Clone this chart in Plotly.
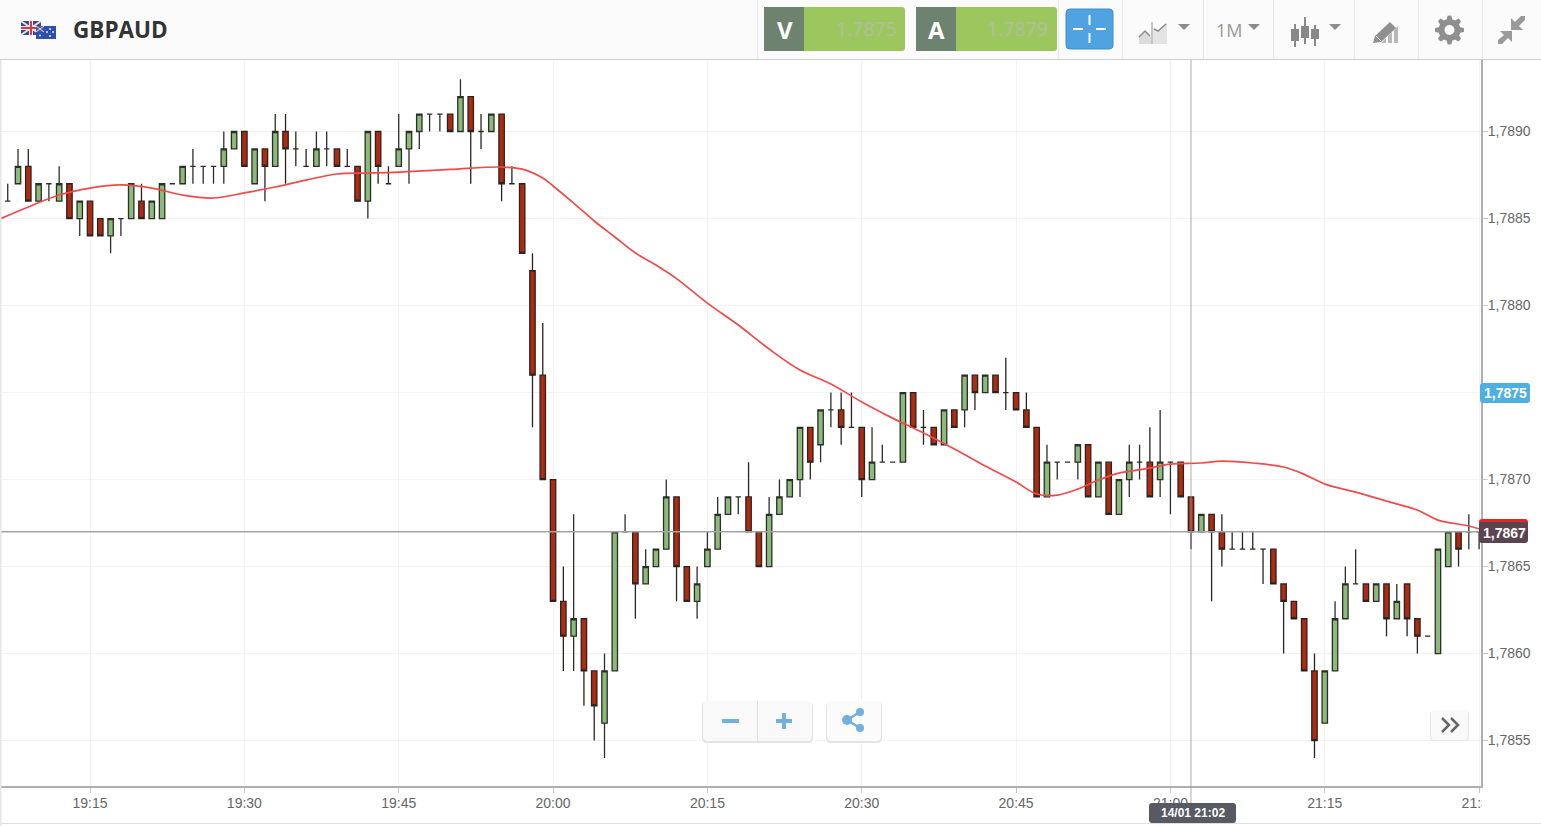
import math
import numpy as np
import pandas as pd
import plotly.graph_objects as go

# prices are written as pips above 1.7800, one candle a minute from 19:07
opens = [86,87,88,86,87,86,87,85,86,85,84,85,85,86,85,85,87,87,88,88,88,88,89,90,87,89,88,90,89,88,88,89,89,88,88,86,90,87,88,89,90,91,91,91,90,92,90,90,91,87,87,
         82,76,70,63,61,62,59,56,59,67,67,64,65,66,69,65,63,65,66,68,69,69,67,65,68,69,70,73,72,74,74,73,73,70,71,71,71,75,73,73,72,74,74,76,75,76,75,75,74,73,69,71,
         71,71,72,69,71,68,70,71,71,70,71,71,69,67,68,67,66,66,66,66,66,64,63,62,59,56,59,62,64,64,63,64,62,64,62,61,60,65,67,67,67]
highs = [87,89,89,87,87,88,87,86,86,85,85,85,87,87,86,87,87,88,89,88,88,90,90,90,89,89,91,91,90,89,90,90,89,89,88,90,90,88,91,90,91,91,91,91,93,92,91,91,91,88,87,
         83,79,70,65,68,62,59,60,67,68,67,66,66,70,69,65,65,67,69,69,69,71,67,69,70,70,73,73,74,75,75,75,73,73,72,71,75,75,74,73,74,74,76,76,76,76,77,75,75,73,72,71,
         71,72,72,71,71,70,72,72,73,74,71,71,69,68,68,68,67,67,67,66,66,64,63,62,60,59,63,65,66,64,64,64,64,64,62,61,66,67,67,68,67]
lows = [86,87,86,86,86,86,85,84,84,84,83,84,85,85,85,85,87,87,87,87,87,87,89,88,87,86,88,87,88,88,88,88,88,88,86,85,87,87,88,87,89,90,90,90,90,87,89,90,86,87,83,
        73,70,63,59,59,57,55,54,59,67,62,64,65,66,63,63,62,65,66,68,68,67,65,65,68,69,69,70,71,73,72,73,69,70,71,71,71,73,72,72,72,73,73,74,75,75,74,74,73,69,69,70,
        71,70,69,69,68,68,69,70,69,69,68,69,66,67,63,65,66,66,66,64,64,60,62,59,54,56,59,62,64,63,63,61,62,61,60,61,60,65,65,66,66]
closes = [86,88,86,87,87,87,85,86,84,84,85,85,87,85,86,87,87,88,88,88,88,89,90,88,89,88,90,89,89,88,89,89,88,88,86,90,88,87,89,90,91,91,91,90,92,90,90,91,87,87,83,
          76,70,63,61,62,59,57,59,67,67,64,65,66,69,65,63,64,66,68,69,69,67,65,68,69,70,73,71,74,74,73,73,70,71,71,71,75,73,73,72,74,73,76,75,76,75,75,74,73,69,71,71,
          71,72,69,71,68,70,71,71,69,71,71,69,67,68,67,66,66,66,66,66,64,63,62,59,55,59,62,64,64,63,64,62,63,62,61,61,66,67,66,67,67]

# moving average read at irregular times
ma_times = ["19:06","19:09","19:12","19:15","19:18","19:21","19:24","19:27","19:30","19:33","19:36","19:39","19:42","19:45","19:50","19:55","19:57","19:59",
            "20:00","20:02","20:04","20:06","20:08","20:10","20:12","20:15","20:18","20:21","20:24","20:27","20:30","20:33","20:36","20:39","20:42","20:45","20:47","20:49",
            "20:51","20:53","20:55","20:58","21:00","21:03","21:05","21:08","21:11","21:13","21:15","21:18","21:21","21:24","21:26","21:29","21:31"]
ma_pips = [84.91,85.66,86.35,86.75,86.93,86.75,86.35,86.18,86.47,86.81,87.21,87.56,87.61,87.67,87.82,87.96,87.84,87.33,
           86.87,85.89,84.86,83.94,83.02,82.33,81.55,80.14,78.88,77.50,76.29,75.49,74.46,73.53,72.67,71.75,70.78,69.86,69.17,69.11,
           69.45,69.97,70.37,70.66,70.89,70.95,71.06,70.95,70.72,70.30,69.74,69.28,68.76,68.25,67.67,67.33,66.98]

y_tick_vals = [1.7855, 1.7860, 1.7865, 1.7870, 1.7875, 1.7880, 1.7885, 1.7890]
y_tick_text = ["1,7855", "1,7860", "1,7865", "1,7870", "", "1,7880", "1,7885", "1,7890"]

W = 1541
H = 826


def to_price(pips):
    return 1.78 + np.array(pips) / 10000


def X(x):
    return x / W


def Y(y):
    return 1 - y / H


shapes = []
notes = []


def rect(x0, y0, x1, y1, fill, line=None, layer="above"):
    shapes.append(dict(type="rect", xref="paper", yref="paper", x0=X(x0), y0=Y(y0), x1=X(x1), y1=Y(y1),
                       fillcolor=fill, line=dict(width=1 if line else 0, color=line or fill), layer=layer))


def poly(points, fill, line=None, width=1):
    path = "M " + " L ".join(f"{X(a):.5f},{Y(b):.5f}" for a, b in points) + " Z"
    shapes.append(dict(type="path", xref="paper", yref="paper", path=path, fillcolor=fill,
                       line=dict(width=width if line else 0, color=line or fill), layer="above"))


def stroke(points, color, width=1):
    path = "M " + " L ".join(f"{X(a):.5f},{Y(b):.5f}" for a, b in points)
    shapes.append(dict(type="path", xref="paper", yref="paper", path=path,
                       line=dict(width=width, color=color), layer="above"))


def rounded(x0, y0, x1, y1, r, fill, line=None):
    path = (f"M {X(x0+r):.5f},{Y(y0):.5f} L {X(x1-r):.5f},{Y(y0):.5f} Q {X(x1):.5f},{Y(y0):.5f} {X(x1):.5f},{Y(y0+r):.5f} "
            f"L {X(x1):.5f},{Y(y1-r):.5f} Q {X(x1):.5f},{Y(y1):.5f} {X(x1-r):.5f},{Y(y1):.5f} "
            f"L {X(x0+r):.5f},{Y(y1):.5f} Q {X(x0):.5f},{Y(y1):.5f} {X(x0):.5f},{Y(y1-r):.5f} "
            f"L {X(x0):.5f},{Y(y0+r):.5f} Q {X(x0):.5f},{Y(y0):.5f} {X(x0+r):.5f},{Y(y0):.5f} Z")
    shapes.append(dict(type="path", xref="paper", yref="paper", path=path, fillcolor=fill,
                       line=dict(width=1 if line else 0, color=line or fill), layer="above"))


def dot(cx, cy, r, fill):
    shapes.append(dict(type="circle", xref="paper", yref="paper", x0=X(cx-r), y0=Y(cy-r), x1=X(cx+r), y1=Y(cy+r),
                       fillcolor=fill, line=dict(width=0), layer="above"))


def label(x, y, text, size, color, family="Liberation Sans", anchor="center"):
    notes.append(dict(xref="paper", yref="paper", x=X(x), y=Y(y), text=text, showarrow=False, xanchor=anchor,
                      yanchor="middle", font=dict(size=size, color=color, family=family)))


times = pd.date_range("2016-01-14 19:07", periods=len(opens), freq="min")

fig = go.Figure()
fig.add_trace(go.Candlestick(
    x=times, open=to_price(opens), high=to_price(highs), low=to_price(lows), close=to_price(closes),
    increasing=dict(fillcolor="#8cba78", line=dict(color="#2b2f2a", width=1.3)),
    decreasing=dict(fillcolor="#ae2a10", line=dict(color="#2b2320", width=1.3)),
    whiskerwidth=0, hoverinfo="skip", showlegend=False,
))
fig.add_trace(go.Scatter(
    x=[f"2016-01-14 {t}" for t in ma_times], y=to_price(ma_pips), mode="lines",
    line=dict(color="#f24a4a", width=1.7, shape="spline"), hoverinfo="skip", showlegend=False,
))

# crosshair
shapes.append(dict(type="line", xref="paper", yref="y", x0=0, x1=X(1481), y0=1.7867, y1=1.7867,
                   line=dict(color="#a3a3a3", width=1.6), layer="above"))
shapes.append(dict(type="line", xref="x", yref="paper", x0="2016-01-14 21:02", x1="2016-01-14 21:02", y0=Y(823), y1=Y(60),
                   line=dict(color="#9a9a9a", width=0.8), layer="above"))

# hides what runs past the right edge of the plot
rect(1482, 788, 1541, 822, "#ffffff")
rect(0, 822, W, 826, "#ffffff")
rect(0, 823, W, 824, "#dedede")
rect(0, 60, 1.5, 826, "#e6e6e6")

# header strip
rect(0, 0, W, 59, "#fbfbfb")
rect(0, 59, W, 60, "#cfcfcf")
for sx in [757, 1058, 1122, 1203, 1273, 1354, 1418, 1482]:
    rect(sx, 0, sx + 1, 59, "#e8e8e8")

# flags
rect(21, 21, 41, 35, "#3b4a86")
stroke([(21, 21), (41, 35)], "#e9dfe0", 2)
stroke([(21, 35), (41, 21)], "#e9dfe0", 2)
rect(29, 21, 33, 35, "#f2ecec")
rect(21, 26, 41, 30, "#f2ecec")
rect(30, 21, 32, 35, "#d0394a")
rect(21, 27, 41, 29, "#d0394a")
rect(36, 26, 56, 39, "#2d4fae")
rect(36, 26, 44, 32, "#4a5a9c")
stroke([(36, 26), (44, 32)], "#e6d8dc", 1)
stroke([(36, 32), (44, 26)], "#e6d8dc", 1)
for sx, sy in [(40, 35.5), (50, 29), (53, 32), (50, 36), (47, 32)]:
    dot(sx, sy, 0.9, "#ffffff")
label(71, 29.5, "<b>GBPAUD</b>", 22.5, "#333333", "Open Sans", "left")

# quote boxes
rounded(764, 7, 905, 51, 3, "#9cc75f")
rect(764, 7, 804, 51, "#6e8270")
label(785, 29.5, "<b>V</b>", 24, "#ffffff", "Open Sans")
label(899, 28.5, "1.7875", 19.5, "#b3bd9f", "Open Sans", "right")
rounded(916, 7, 1057, 51, 3, "#9cc75f")
rect(916, 7, 956, 51, "#6e8270")
label(936, 29.5, "<b>A</b>", 24, "#ffffff", "Open Sans")
label(1050, 28.5, "1.7879", 19.5, "#b3bd9f", "Open Sans", "right")

# crosshair button
rounded(1066, 9, 1113, 49, 4, "#4ea3e0", "#3f8fca")
rect(1088.5, 15, 1090.5, 25, "#ffffff")
rect(1088.5, 33, 1090.5, 43, "#ffffff")
rect(1073, 28, 1083, 30, "#ffffff")
rect(1096, 28, 1106, 30, "#ffffff")

# chart type icon
poly([(1139, 44), (1139, 37), (1145, 31), (1151, 37), (1151, 44)], "#dcdcdc")
poly([(1153, 44), (1153, 28), (1158, 31), (1167, 23), (1167, 44)], "#e4e4e4")
stroke([(1139, 37), (1145, 31), (1150, 36)], "#8f8f8f", 1.5)
stroke([(1154, 29), (1158, 31), (1166, 24)], "#8f8f8f", 1.5)
stroke([(1152, 22), (1152, 44)], "#8f8f8f", 1)
poly([(1178, 24), (1190, 24), (1184, 30)], "#8c8c8c")

label(1229, 30, "1M", 18, "#9a9a9a", "Open Sans")
poly([(1248, 24), (1260, 24), (1254, 30)], "#8c8c8c")

# candles icon
for cx, top, bottom, ytop, ybot in [(1295, 29, 41, 24, 47), (1305, 26, 38, 17, 44), (1315, 29, 39, 25, 46)]:
    rect(cx - 1, ytop, cx + 1, ybot, "#888888")
    rect(cx - 4, top, cx + 4, bottom, "#888888")
poly([(1329, 24), (1341, 24), (1335, 30)], "#8c8c8c")

# drawing tools icon: rising bars with a pencil across them
poly([(1381, 43), (1386, 38), (1386, 43)], "#b8b8b8")
poly([(1388, 43), (1388, 36), (1392, 32), (1392, 43)], "#b8b8b8")
poly([(1394, 43), (1394, 30), (1398, 26), (1398, 43)], "#b8b8b8")
poly([(1373, 43), (1375, 36), (1390, 22), (1396, 28), (1381, 42)], "#8f8f8f")
stroke([(1376, 36), (1381, 41)], "#fbfbfb", 1)

# gear
gear = []
for i in range(48):
    a = 2 * math.pi * i / 48
    r = 14.5 if (i % 6) in (0, 1, 5) else 11
    gear.append((1449.5 + r * math.cos(a), 30 + r * math.sin(a)))
poly(gear, "#8f8f8f")
dot(1449.5, 30, 5, "#fbfbfb")

# fullscreen arrows, pointing inwards
poly([(1525, 16), (1521, 16), (1515, 22), (1511, 18), (1511, 30), (1523, 30), (1519, 26), (1525, 20)], "#9a9a9a")
poly([(1498, 44), (1502, 44), (1508, 38), (1512, 42), (1512, 31), (1500, 31), (1504, 35), (1498, 40)], "#9a9a9a")

# zoom and share buttons
rounded(702, 702, 813, 743, 5, "#e4e4e4")
rounded(703, 701, 812, 741, 5, "#f9f9f9")
rect(757, 701, 758, 741, "#dddddd")
rect(722, 719, 739, 723, "#71b2dd")
rect(776, 719, 792, 723, "#71b2dd")
rect(782, 713, 786, 729, "#71b2dd")
rounded(826, 702, 882, 743, 5, "#e4e4e4")
rounded(827, 701, 881, 741, 5, "#fbfbfb")
stroke([(860, 712), (847, 720), (860, 728)], "#71b2dd", 2.5)
dot(860, 712, 4, "#71b2dd")
dot(847, 720, 5, "#71b2dd")
dot(860, 728, 4, "#71b2dd")

rounded(1430, 711, 1469, 741, 4, "#e8e8e8")
rounded(1431, 710, 1468, 740, 4, "#f9f9f9")
stroke([(1442, 718), (1449, 725), (1442, 732)], "#666666", 2.5)
stroke([(1451, 718), (1458, 725), (1451, 732)], "#666666", 2.5)

# price tags
rounded(1480, 383, 1530, 403, 3, "#4eb0e0")
label(1505.5, 393, "<b>1,7875</b>", 14, "#ffffff")
rounded(1479, 519, 1528, 528, 3, "#d92a2a")
rounded(1479, 522, 1528, 543, 3, "#5b4450")
label(1504.5, 533, "<b>1,7867</b>", 14, "#ffffff")

# crosshair date
rounded(1149, 803, 1236, 823, 3, "#575a63")
label(1192.5, 812.5, "<b>14/01 21:02</b>", 12, "#ffffff")

fig.update_layout(
    width=W, height=H, autosize=False,
    margin=dict(l=0, r=0, t=0, b=0, autoexpand=False),
    paper_bgcolor="#ffffff", plot_bgcolor="#ffffff",
    showlegend=False,
    shapes=shapes, annotations=notes,
    font=dict(family="Liberation Sans", size=14, color="#666666"),
    boxgap=0.25, boxgroupgap=0.3,
    xaxis=dict(
        domain=[0, 1481 / W], range=["2016-01-14 19:06:15", "2016-01-14 21:30:11"], automargin=False,
        rangeslider=dict(visible=False), tickformat="%H:%M", tick0="2016-01-14 19:00", dtick=15 * 60000,
        showgrid=True, gridcolor="#f3f3f3", gridwidth=1, zeroline=False,
        showline=True, linecolor="#b0b0b0", linewidth=2,
        ticks="outside", ticklen=5, tickcolor="#c8c8c8", tickfont=dict(size=14, color="#666666"),
        ticklabelstandoff=-2,
    ),
    yaxis=dict(
        domain=[Y(786), Y(60)], range=[1.785239, 1.789411], side="right", automargin=False,
        tickmode="array", tickvals=y_tick_vals, ticktext=y_tick_text,
        showgrid=True, gridcolor="#f3f3f3", gridwidth=1, zeroline=False,
        showline=True, linecolor="#b0b0b0", linewidth=2,
        ticks="outside", ticklen=5, tickcolor="#c8c8c8", tickfont=dict(size=14, color="#666666"),
        ticklabelstandoff=-3,
    ),
)

fig.write_html("out.html", config=dict(displayModeBar=False),
               post_script="document.documentElement.style.overflow='hidden';document.body.style.margin='0';")
